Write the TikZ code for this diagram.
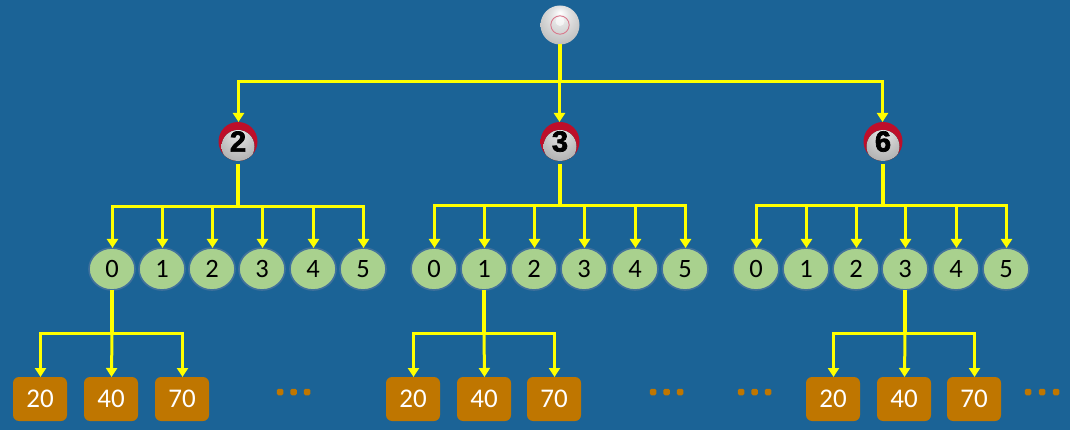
\documentclass[tikz,border=0pt]{standalone}
\usepackage{fontspec}
\setmainfont{Carlito}
\newfontfamily\ballfont[BoldFeatures={FakeBold=2.4}]{Liberation Sans}
\usetikzlibrary{arrows.meta,shapes.geometric,shadings}
\definecolor{bgblue}{HTML}{1B6396}
\definecolor{wireY}{HTML}{FFFF00}
\definecolor{greenN}{HTML}{A9D18E}
\definecolor{greenB}{HTML}{41719C}
\definecolor{orangeN}{HTML}{BF7600}
\definecolor{ringP}{HTML}{D9788C}
\definecolor{r1}{HTML}{BE0E2A}
\definecolor{r2}{HTML}{A80C26}
\definecolor{r3}{HTML}{780A22}
\definecolor{g1}{HTML}{FFFFFF}
\definecolor{g2}{HTML}{E2E2E2}
\definecolor{g3}{HTML}{C4C4C4}
\definecolor{g4}{HTML}{A2A2A2}
\definecolor{g5}{HTML}{808080}
\definecolor{h1}{HTML}{EEEEEE}
\definecolor{h2}{HTML}{D4D4D4}
\definecolor{h3}{HTML}{B4B4B4}
\definecolor{h4}{HTML}{929292}
\definecolor{h5}{HTML}{727272}
\pgfdeclareradialshading{redball}{\pgfpoint{0bp}{0bp}}{
  color(0bp)=(r1); color(34bp)=(r1); color(44bp)=(r2); color(50bp)=(r3)}
\pgfdeclareradialshading{greyball}{\pgfpoint{0bp}{16bp}}{
  color(0bp)=(g1); color(12bp)=(g2); color(28bp)=(g3); color(42bp)=(g4); color(50bp)=(g5)}
\pgfdeclareradialshading{greyinner}{\pgfpoint{0bp}{16bp}}{
  color(0bp)=(h1); color(12bp)=(h2); color(28bp)=(h3); color(42bp)=(h4); color(50bp)=(h5)}
\tikzset{
  x=1pt,y=-1pt,
  wire/.style={draw=wireY,line width=3pt},
  trunk/.style={draw=wireY,line width=4pt},
  arrowed/.style={wire,-{Triangle[width=11pt,length=9pt]}},
  digit/.style={ellipse,draw=greenB,line width=1.6pt,fill=greenN,minimum width=46pt,minimum height=42pt,inner sep=0pt,outer sep=0pt,text=black,font=\fontsize{26.5}{26.5}\selectfont},
  leaf/.style={rectangle,rounded corners=6pt,fill=orangeN,minimum width=54pt,minimum height=44pt,inner sep=0pt,outer sep=0pt,text=white,font=\fontsize{27}{27}\selectfont},
  dotty/.style={rectangle,rounded corners=1.5pt,fill=orangeN,minimum width=6.5pt,minimum height=6.5pt,inner sep=0pt},
  ballbase/.style={circle,minimum size=39pt,inner sep=0pt,outer sep=0pt},
  redtop/.style={ballbase,shading=redball,text=black,font=\ballfont\bfseries\fontsize{29}{29}\selectfont,
    path picture={\fill[shading=greyinner] (path picture bounding box.center)++(0pt,-5pt) circle[radius=16.5pt];}},
  greyroot/.style={ballbase,shading=greyball}
}
\begin{document}
\begin{tikzpicture}
\useasboundingbox (0,0) rectangle (1070,430);
\fill[bgblue] (0,0) rectangle (1070,430);

% root
\node[greyroot] (root) at (560,25) {};
\draw[ringP,line width=0.9pt] (root.center) circle[radius=9.2pt];
\fill[white,opacity=.6] (560,21.5) circle[radius=4.5pt];

% level 1 balls
\node[redtop] (b1) at (238,141.5) {2};
\node[redtop] (b2) at (560,141.5) {3};
\node[redtop] (b3) at (883,141.5) {6};

\coordinate (rj) at (560,81.5);
\draw[trunk] (root.south) -- (rj);
\draw[arrowed] (rj) -| ([xshift=.5pt]b1.north);
\draw[arrowed] ([xshift=-.5pt]rj) -- ([xshift=-.5pt]b2.north);
\draw[arrowed] (rj) -| ([xshift=-.5pt]b3.north);

% digit ellipses
\foreach \g/\xs in {1/{112,162,212,262,313,363},2/{434,484,534,584,635,685},3/{756,806,856,905,956,1006}}{
  \foreach \x [count=\i from 0] in \xs
    \node[digit] (d\g\i) at (\x,269) {\i};
}

% ball to digits
\foreach \g/\bx/\by in {1/238/206.5,2/560/205.5,3/883/205.5}{
  \coordinate (bj\g) at (\bx,\by);
  \draw[trunk] (b\g.south) ++(0,3) -- (bj\g);
  \foreach \i in {0,...,5}
    \draw[arrowed] (bj\g) -| ([xshift=.5pt]d\g\i.north);
}

% leaves
\foreach \g/\a/\b/\c/\from in {1/40/111/182/d10,2/413/484/554/d21,3/833/904/974/d33}{
  \node[leaf] (l\g a) at (\a,399) {20};
  \node[leaf] (l\g b) at (\b,399) {40};
  \node[leaf] (l\g c) at (\c,399) {70};
  \coordinate (lj\g) at (\from.south |- 0,333.5);
  \draw[trunk] (\from.south) -- (lj\g);
  \draw[arrowed] (lj\g) -| ([xshift=.5pt]l\g a.north);
  \draw[arrowed] (lj\g) -- ([xshift=.5pt]l\g b.north);
  \draw[arrowed] (lj\g) -| ([xshift=.5pt]l\g c.north);
}

% ellipsis dots
\foreach \n/\x in {a/280,b/293.5,c/307,d/653,e/666.5,f/680,g/741,h/754.5,i/768,j/1028,k/1042,l/1056}
  \node[dotty] (dot\n) at (\x,392) {};
\end{tikzpicture}
\end{document}
